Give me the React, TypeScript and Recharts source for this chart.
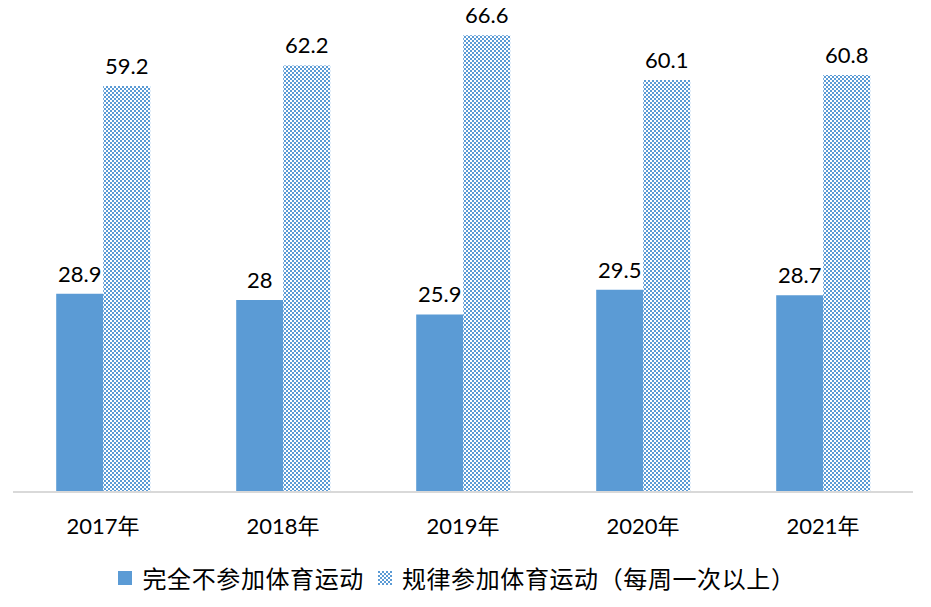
import { Bar, BarChart, LabelList, Legend, XAxis, YAxis } from "recharts";

const years = ["2017年", "2018年", "2019年", "2020年", "2021年"];
const noExercise = [28.9, 28, 25.9, 29.5, 28.7];
const regularExercise = [59.2, 62.2, 66.6, 60.1, 60.8];
const seriesNames = ["完全不参加体育运动", "规律参加体育运动（每周一次以上）"];
const seriesFills = ["#5b9bd5", "url(#checker)"];

const data = years.map((year, i) => ({
  year,
  none: noExercise[i],
  regular: regularExercise[i],
}));

const font = "Lato, 'Noto Sans CJK SC', sans-serif";

function LegendBox() {
  return (
    <div
      style={{
        display: "flex",
        justifyContent: "center",
        alignItems: "center",
        fontFamily: "'Noto Sans CJK SC', sans-serif",
        fontSize: 24,
        color: "#000",
        paddingRight: 12,
      }}
    >
      {seriesNames.map((name, i) => (
        <span key={name} style={{ display: "inline-flex", alignItems: "center", marginRight: i === 0 ? 14 : 0 }}>
          <svg width={14} height={14} style={{ marginRight: 10 }}>
            <rect width={14} height={14} fill={seriesFills[i] === "#5b9bd5" ? "#5b9bd5" : "url(#checkerLegend)"} />
            <defs>
              <pattern id="checkerLegend" width="4" height="4" patternUnits="userSpaceOnUse">
                <rect width="4" height="4" fill="#ffffff" />
                <rect x="0" y="0" width="2" height="2" fill="#5b9bd5" />
                <rect x="2" y="2" width="2" height="2" fill="#5b9bd5" />
              </pattern>
            </defs>
          </svg>
          <span style={{ letterSpacing: 0.6 }}>{name}</span>
        </span>
      ))}
    </div>
  );
}

export default function App() {
  return (
    <div style={{ position: "absolute", left: 0, top: 0, width: 931, height: 607, background: "#fff" }}>
      <BarChart
        width={931}
        height={607}
        data={data}
        margin={{ top: 12, right: 18, bottom: 0, left: 13 }}
        barCategoryGap="24%"
        barGap={0}
        style={{ fontFamily: font }}
      >
        <defs>
          <pattern id="checker" width="4" height="4" patternUnits="userSpaceOnUse">
            <rect width="4" height="4" fill="#ffffff" />
            <rect x="0" y="0" width="2" height="2" fill="#5b9bd5" />
            <rect x="2" y="2" width="2" height="2" fill="#5b9bd5" />
          </pattern>
        </defs>
        <XAxis
          dataKey="year"
          stroke="#d9d9d9"
          strokeWidth={2}
          tickLine={false}
          height={62}
          tick={{ fill: "#000", fontSize: 22, dy: 18 }}
        />
        <YAxis hide domain={[0, 70]} />
        <Legend
          verticalAlign="bottom"
          height={53}
          content={<LegendBox />}
          wrapperStyle={{ bottom: -6 }}
        />
        <Bar dataKey="none" name={seriesNames[0]} fill={seriesFills[0]} isAnimationActive={false}>
          <LabelList dataKey="none" position="top" offset={12} fill="#000" fontSize={22} />
        </Bar>
        <Bar dataKey="regular" name={seriesNames[1]} fill={seriesFills[1]} isAnimationActive={false}>
          <LabelList dataKey="regular" position="top" offset={12} fill="#000" fontSize={22} />
        </Bar>
      </BarChart>
    </div>
  );
}
